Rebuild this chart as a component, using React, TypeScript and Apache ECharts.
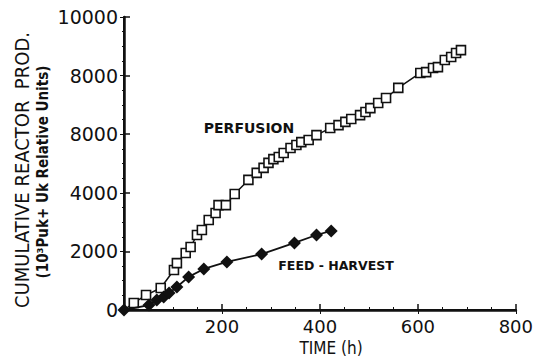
import React, { useEffect, useRef } from 'react';
import * as echarts from 'echarts';

const perfusionTime = [0, 20, 45, 75, 102, 108, 126, 136, 149, 159, 173, 187, 193, 208, 226, 254, 271, 285, 295, 305, 316, 326, 340, 352, 362, 377, 393, 421, 438, 452, 464, 482, 493, 503, 519, 535, 560, 605, 617, 631, 641, 655, 668, 678, 688];
const perfusionProd = [0, 240, 510, 750, 1365, 1600, 1945, 2150, 2560, 2730, 3070, 3310, 3580, 3580, 3960, 4440, 4680, 4850, 5020, 5150, 5220, 5360, 5530, 5630, 5730, 5800, 5970, 6210, 6310, 6420, 6520, 6650, 6760, 6890, 7065, 7235, 7580, 8090, 8120, 8260, 8290, 8530, 8635, 8770, 8870];

const feedTime = [0, 51, 67, 81, 92, 108, 132, 163, 210, 281, 348, 393, 423];
const feedProd = [0, 170, 340, 440, 580, 785, 1130, 1400, 1640, 1910, 2290, 2560, 2700];

const yTickLabels = ['0', '2000', '4000', '8000', '8000', '10000'];

const xTitle = 'TIME (h)';
const yTitle1 = 'CUMULATIVE REACTOR  PROD.';
const yTitle2 = '(10³Puk+ Uk Relative Units)';
const perfLabel = 'PERFUSION';
const feedLabel = 'FEED - HARVEST';

export default function App() {
  const ref = useRef<HTMLDivElement>(null);
  useEffect(() => {
    if (!ref.current) return;
    const chart = echarts.init(ref.current, undefined, { renderer: 'svg' });
    const ink = '#111';
    chart.setOption({
      animation: false,
      backgroundColor: '#fff',
      grid: { left: 124, right: 18, top: 17, bottom: 48 },
      xAxis: [
        {
          type: 'value', min: 0, max: 800, interval: 200,
          axisLine: { show: true, lineStyle: { color: ink, width: 2.5 } },
          axisTick: { show: true, inside: true, length: 6, lineStyle: { color: ink, width: 1.5 } },
          minorTick: { show: true, splitNumber: 4, length: 3, lineStyle: { color: ink, width: 1 } },
          axisLabel: { fontFamily: 'DejaVu Sans', fontSize: 18, color: ink, margin: 7, showMinLabel: false },
          splitLine: { show: false },
          z: 1,
        },
        {
          type: 'value', min: 0, max: 800, interval: 200, position: 'top',
          axisLine: { show: true, lineStyle: { color: ink, width: 2 } },
          axisTick: { show: true, inside: true, length: 4, lineStyle: { color: ink, width: 1 } },
          axisLabel: { show: false },
          splitLine: { show: false },
        },
      ],
      yAxis: [
        {
          type: 'value', min: 0, max: 10000, interval: 2000,
          axisLine: { show: true, lineStyle: { color: ink, width: 2.5 } },
          axisTick: { show: true, inside: true, length: 6, lineStyle: { color: ink, width: 1.5 } },
          axisLabel: { fontFamily: 'DejaVu Sans', fontSize: 19, color: ink, margin: 6, formatter: (v: number) => yTickLabels[Math.round(v / 2000)] },
          splitLine: { show: false },
          z: 1,
        },
        {
          type: 'value', min: 0, max: 10000, interval: 2000, position: 'right',
          axisLine: { show: true, lineStyle: { color: ink, width: 2 } },
          axisTick: { show: true, inside: true, length: 4, lineStyle: { color: ink, width: 1 } },
          minorTick: { show: true, splitNumber: 4, length: 2, lineStyle: { color: ink, width: 1 } },
          axisLabel: { show: false },
          splitLine: { show: false },
        },
      ],
      series: [
        {
          type: 'line',
          data: perfusionTime.map((t, i) => (i === 0 ? { value: [t, perfusionProd[i]], symbol: 'none' } : [t, perfusionProd[i]])),
          symbol: 'rect', symbolSize: 9, clip: false,
          lineStyle: { color: ink, width: 1.5 },
          itemStyle: { color: '#fff', borderColor: ink, borderWidth: 1.6 },
          z: 3,
        },
        {
          type: 'line',
          data: feedTime.map((t, i) => [t, feedProd[i]]),
          symbol: 'diamond', symbolSize: [13, 13], clip: false,
          lineStyle: { color: ink, width: 1.8 },
          itemStyle: { color: ink, borderColor: ink, borderWidth: 0 },
          z: 4,
        },
      ],
      graphic: [
        { type: 'text', x: 249, y: 128, style: { text: perfLabel, font: 'bold 14px "DejaVu Sans"', fill: ink, align: 'center', verticalAlign: 'middle' } },
        { type: 'text', x: 336, y: 265, style: { text: feedLabel, font: 'bold 12.5px "DejaVu Sans"', fill: ink, align: 'center', verticalAlign: 'middle' } },
        { type: 'text', x: 331, y: 348, style: { text: xTitle, font: '17px "DejaVu Sans Condensed"', fill: ink, align: 'center', verticalAlign: 'middle' } },
        { type: 'text', x: 22, y: 170, rotation: Math.PI / 2, style: { text: yTitle1, font: '20px "DejaVu Sans Condensed"', fill: ink, align: 'center', verticalAlign: 'middle' } },
        { type: 'text', x: 43, y: 172, rotation: Math.PI / 2, style: { text: yTitle2, font: 'bold 15px "DejaVu Sans Condensed"', fill: ink, align: 'center', verticalAlign: 'middle' } },
      ],
    });
    return () => chart.dispose();
  }, []);
  return <div ref={ref} style={{ width: 536, height: 358, position: 'absolute', left: 0, top: 0 }} />;
}
